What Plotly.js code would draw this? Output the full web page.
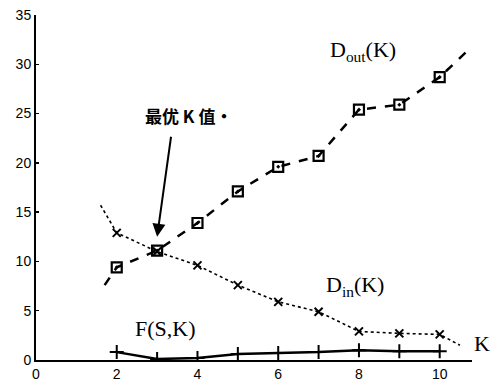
<!DOCTYPE html>
<html><head><meta charset="utf-8">
<script src="https://cdn.plot.ly/plotly-3.0.1.min.js"></script>
<style>html,body{margin:0;padding:0;background:#fff}#c{width:491px;height:382px}</style>
</head><body><div id="c"></div>
<script>
var K = [2, 3, 4, 5, 6, 7, 8, 9, 10];
var Dout = [9.4, 11.1, 13.9, 17.1, 19.6, 20.7, 25.4, 25.9, 28.7];
var Din = [12.9, 11.0, 9.6, 7.6, 5.9, 4.9, 2.9, 2.7, 2.6];
var F = [0.8, 0.1, 0.2, 0.6, 0.7, 0.8, 1.0, 0.9, 0.9];
// line extensions beyond the marked points
var doutExtX = [1.7, 10.8], doutExtY = [7.6, 31.8];
var dinExtX = [1.6, 10.5], dinExtY = [15.7, 1.5];
var xTicks = [0, 2, 4, 6, 8, 10];
var yTicks = [0, 5, 10, 15, 20, 25, 30, 35];

function ext(x0, xs, x1) { return [x0].concat(xs, [x1]); }

var traces = [
  {x: ext(doutExtX[0], K, doutExtX[1]), y: ext(doutExtY[0], Dout, doutExtY[1]), mode: 'lines',
   line: {color: '#000', width: 2.5, dash: 'dash'}, hoverinfo: 'skip'},
  {x: K, y: Dout, mode: 'markers',
   marker: {symbol: 'square-open-dot', size: 10, color: '#000', line: {width: 2.2, color: '#000'}}},
  {x: ext(dinExtX[0], K, dinExtX[1]), y: ext(dinExtY[0], Din, dinExtY[1]), mode: 'lines',
   line: {color: '#000', width: 1.6, dash: 'dot'}, hoverinfo: 'skip'},
  {x: K, y: Din, mode: 'markers',
   marker: {symbol: 'x-thin', size: 8, color: '#000', line: {width: 2, color: '#000'}}},
  {x: K, y: F, mode: 'lines+markers',
   line: {color: '#000', width: 2.5},
   marker: {symbol: 'cross-thin', size: 10, color: '#000', line: {width: 2, color: '#000'}}}
];

var serif = {family: 'Liberation Serif, serif', size: 22, color: '#000'};
var tf = {family: 'Liberation Sans, Arial, sans-serif', size: 14, color: '#000'};
var layout = {
  width: 491, height: 382,
  margin: {l: 36, r: 19, t: 15, b: 22},
  paper_bgcolor: '#fff', plot_bgcolor: '#fff',
  showlegend: false,
  xaxis: {range: [0, 10.8], tickvals: xTicks, ticktext: xTicks.map(String),
          showgrid: false, zeroline: false, showline: true, linecolor: '#000', linewidth: 2,
          ticks: '', tickfont: tf},
  yaxis: {range: [0, 35], tickvals: yTicks, ticktext: yTicks.map(String),
          showgrid: false, zeroline: false, showline: true, linecolor: '#000', linewidth: 2,
          ticks: 'inside', ticklen: 3, tickwidth: 1.5, tickcolor: '#000', tickfont: tf},
  annotations: [
    {x: 8.1, y: 31.3, xref: 'x', yref: 'y', text: 'D<sub>out</sub>(K)', showarrow: false, font: serif},
    {x: 7.9, y: 7.5, xref: 'x', yref: 'y', text: 'D<sub>in</sub>(K)', showarrow: false, font: serif},
    {x: 3.2, y: 3.2, xref: 'x', yref: 'y', text: 'F(S,K)', showarrow: false, font: serif},
    {x: 1.0, y: 0.015, xref: 'paper', yref: 'y', text: 'K', showarrow: false, font: serif, xanchor: 'left', yanchor: 'middle', yshift: 16},
    {x: 3.78, y: 24.8, xref: 'x', yref: 'y', text: '最优 K 值·', showarrow: false,
     font: {family: 'Noto Sans CJK SC, sans-serif', size: 17, color: '#000', weight: 'bold'}},
    {x: 3.0, y: 12.5, xref: 'x', yref: 'y', ax: 3.35, ay: 22.8, axref: 'x', ayref: 'y',
     text: '', showarrow: true, arrowhead: 2, arrowsize: 1.3, arrowwidth: 2, arrowcolor: '#000'}
  ]
};
Plotly.newPlot('c', traces, layout, {displayModeBar: false, staticPlot: true});
</script></body></html>
